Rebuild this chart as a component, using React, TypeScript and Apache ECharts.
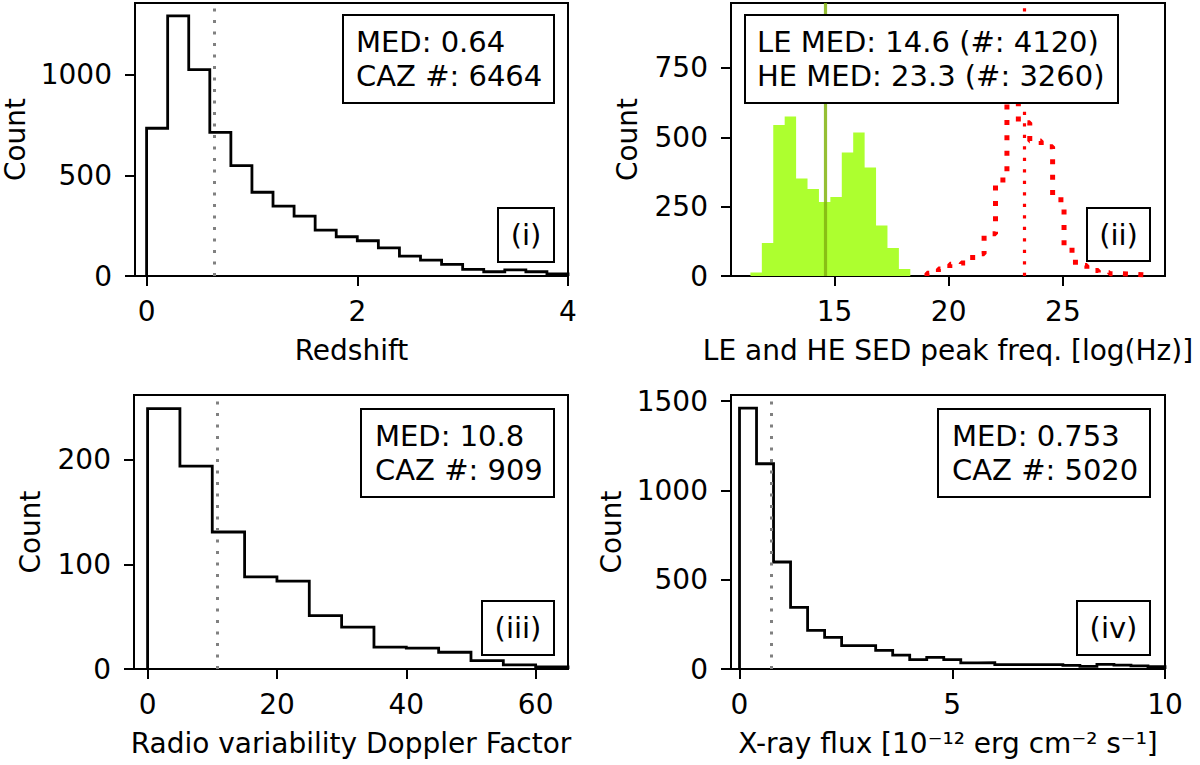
import React, { useEffect, useRef } from "react";
import * as echarts from "echarts";

const FONT = "DejaVu Sans";

// (i) redshift histogram
const zEdges = [0, 0.2, 0.4, 0.6, 0.8, 1.0, 1.2, 1.4, 1.6, 1.8, 2.0, 2.2, 2.4, 2.6, 2.8, 3.0, 3.2, 3.4, 3.6, 3.8, 4.0];
const zCounts = [734, 1292, 1025, 713, 548, 416, 347, 297, 228, 195, 175, 140, 99, 79, 58, 33, 21, 30, 21, 10];
const zMedian = 0.64;
const zTotal = 6464;
const zTicksX = [0, 2, 4];
const zTicksY = [0, 500, 1000];

// (ii) LE and HE SED peak frequency histograms
const leEdges = [11.32, 11.82, 12.32, 12.82, 13.32, 13.82, 14.32, 14.82, 15.32, 15.82, 16.32, 16.82, 17.32, 17.82, 18.32];
const leCounts = [13, 119, 544, 575, 351, 314, 267, 285, 445, 517, 391, 182, 101, 25];
const heEdges = [19.05, 19.55, 20.05, 20.55, 21.05, 21.55, 22.05, 22.55, 23.05, 23.55, 24.05, 24.55, 25.05, 25.55, 26.05, 26.55, 27.05, 27.55, 28.05, 28.55];
const heCounts = [10, 25, 42, 47, 80, 152, 346, 650, 552, 487, 466, 275, 93, 38, 20, 12, 8, 6, 4];
const leMedian = 14.6;
const heMedian = 23.3;
const leTotal = 4120;
const heTotal = 3260;
const sedTicksX = [15, 20, 25];
const sedTicksY = [0, 250, 500, 750];

// (iii) radio variability Doppler factor histogram
const dEdges = [0, 5, 10, 15, 20, 25, 30, 35, 40, 45, 50, 55, 60, 65];
const dCounts = [249, 194, 131, 88, 84, 51, 40, 21, 20, 16, 8, 4, 2];
const dMedian = 10.8;
const dTotal = 909;
const dTicksX = [0, 20, 40, 60];
const dTicksY = [0, 100, 200];

// (iv) X-ray flux histogram
const xEdges = [0, 0.4, 0.8, 1.2, 1.6, 2.0, 2.4, 2.8, 3.2, 3.6, 4.0, 4.4, 4.8, 5.2, 5.6, 6.0, 6.4, 6.8, 7.2, 7.6, 8.0, 8.4, 8.8, 9.2, 9.6, 10.0];
const xCounts = [1461, 1149, 599, 345, 216, 177, 131, 131, 104, 78, 52, 65, 52, 34, 35, 24, 24, 24, 24, 20, 15, 26, 22, 17, 13];
const xMedian = 0.753;
const xTotal = 5020;
const xTicksX = [0, 5, 10];
const xTicksY = [0, 500, 1000, 1500];

// outline of a histogram (as matplotlib's histtype="step")
function stepOutline(edges: number[], counts: number[]): number[][] {
  const pts: number[][] = [[edges[0], 0]];
  counts.forEach((c, i) => {
    pts.push([edges[i], c]);
    pts.push([edges[i + 1], c]);
  });
  pts.push([edges[edges.length - 1], 0]);
  return pts;
}

function axis(
  gridIndex: number,
  min: number,
  max: number,
  ticks: number[],
  name: string,
  nameGap: number,
  labelMargin: number
) {
  return {
    type: "value",
    gridIndex,
    min,
    max,
    name,
    nameLocation: "middle",
    nameGap,
    nameTextStyle: { fontSize: 28, color: "#000", fontFamily: FONT },
    axisLine: { show: true, onZero: false, lineStyle: { color: "#000", width: 2 } },
    axisTick: { show: true, inside: false, length: 10, customValues: ticks, lineStyle: { color: "#000", width: 2 } },
    axisLabel: {
      show: true,
      customValues: ticks,
      margin: labelMargin,
      fontSize: 28,
      color: "#000",
      fontFamily: FONT,
      formatter: (v: number) => String(v),
    },
    splitLine: { show: false },
  };
}

function medianMark(value: number, color: string, width: number, type: any) {
  return {
    xAxis: value,
    lineStyle: { color, width, type, cap: "butt" },
  };
}

function box(x: number, y: number, w: number, h: number, text: string, textX: number | null) {
  return [
    {
      type: "rect",
      z: 100,
      shape: { x, y, width: w, height: h },
      style: { fill: "#fff", stroke: "#000", lineWidth: 2 },
    },
    {
      type: "text",
      z: 101,
      x: textX === null ? x + w / 2 : textX,
      y: y + h / 2,
      style: {
        text,
        fontSize: 29,
        fontFamily: FONT,
        fill: "#000",
        align: textX === null ? "center" : "left",
        verticalAlign: "middle",
        lineHeight: 34.5,
      },
    },
  ];
}

const greyDots = [3, 8.5];

export default function App() {
  const ref = useRef<HTMLDivElement>(null);

  useEffect(() => {
    if (!ref.current) return;
    const chart = echarts.init(ref.current, null, { renderer: "svg" });

    const gridStyle = { show: true, borderColor: "#000", borderWidth: 2, backgroundColor: "transparent" };

    const option: any = {
      animation: false,
      backgroundColor: "#fff",
      textStyle: { fontFamily: FONT },
      grid: [
        { left: 133, top: 3, width: 435, height: 273, ...gridStyle },
        { left: 731, top: 3, width: 434, height: 273, ...gridStyle },
        { left: 134, top: 395, width: 434, height: 274, ...gridStyle },
        { left: 731, top: 395, width: 434, height: 274, ...gridStyle },
      ],
      xAxis: [
        axis(0, -0.11, 4, zTicksX, "Redshift", 60, 21),
        axis(1, 10.47, 29.47, sedTicksX, "LE and HE SED peak freq. [log(Hz)]", 60, 21),
        axis(2, -2.1, 65, dTicksX, "Radio variability Doppler Factor", 60, 21),
        axis(3, -0.2, 10, xTicksX, "X-ray flux [10⁻¹² erg cm⁻² s⁻¹]", 60, 21),
      ],
      yAxis: [
        axis(0, 0, 1356, zTicksY, "Count", 106, 23),
        axis(1, 0, 984, sedTicksY, "Count", 90, 23),
        axis(2, 0, 262, dTicksY, "Count", 90, 23),
        axis(3, 0, 1534, xTicksY, "Count", 106, 23),
      ],
      series: [
        {
          type: "line",
          xAxisIndex: 0,
          yAxisIndex: 0,
          data: stepOutline(zEdges, zCounts),
          symbol: "none",
          silent: true,
          z: 3,
          lineStyle: { color: "#000", width: 2.8, join: "miter" },
          markLine: {
            silent: true,
            symbol: ["none", "none"],
            label: { show: false },
            data: [medianMark(zMedian, "#808080", 3, greyDots)],
          },
        },
        {
          type: "line",
          xAxisIndex: 1,
          yAxisIndex: 1,
          data: stepOutline(leEdges, leCounts),
          symbol: "none",
          silent: true,
          z: 2,
          lineStyle: { opacity: 0, width: 0 },
          areaStyle: { color: "#adff2f", opacity: 1 },
        },
        {
          type: "line",
          xAxisIndex: 1,
          yAxisIndex: 1,
          data: stepOutline(heEdges, heCounts),
          symbol: "none",
          silent: true,
          z: 4,
          lineStyle: { color: "#ff0000", width: 5, type: [5, 10.4], cap: "butt" },
          markLine: {
            silent: true,
            symbol: ["none", "none"],
            label: { show: false },
            data: [
              medianMark(leMedian, "rgba(130,180,16,0.85)", 3.2, "solid"),
              medianMark(heMedian, "#ff0000", 3.2, [3.2, 8.3]),
            ],
          },
        },
        {
          type: "line",
          xAxisIndex: 2,
          yAxisIndex: 2,
          data: stepOutline(dEdges, dCounts),
          symbol: "none",
          silent: true,
          z: 3,
          lineStyle: { color: "#000", width: 2.8, join: "miter" },
          markLine: {
            silent: true,
            symbol: ["none", "none"],
            label: { show: false },
            data: [medianMark(dMedian, "#808080", 3, greyDots)],
          },
        },
        {
          type: "line",
          xAxisIndex: 3,
          yAxisIndex: 3,
          data: stepOutline(xEdges, xCounts),
          symbol: "none",
          silent: true,
          z: 3,
          lineStyle: { color: "#000", width: 2.8, join: "miter" },
          markLine: {
            silent: true,
            symbol: ["none", "none"],
            label: { show: false },
            data: [medianMark(xMedian, "#808080", 3, greyDots)],
          },
        },
      ],
      graphic: [
        ...box(343, 15, 211, 88, `MED: ${zMedian}\nCAZ #: ${zTotal}`, 356),
        ...box(498, 208, 56, 54, "(i)", null),
        ...box(745, 15, 373, 88, `LE MED: ${leMedian} (#: ${leTotal})\nHE MED: ${heMedian} (#: ${heTotal})`, 757),
        ...box(1087, 208, 63, 53, "(ii)", null),
        ...box(361, 409, 193, 88, `MED: ${dMedian}\nCAZ #: ${dTotal}`, 375),
        ...box(482, 601, 72, 54, "(iii)", null),
        ...box(938, 409, 212, 88, `MED: ${xMedian}\nCAZ #: ${xTotal}`, 952),
        ...box(1077, 601, 73, 54, "(iv)", null),
      ],
    };

    chart.setOption(option);
    return () => chart.dispose();
  }, []);

  return (
    <div
      ref={ref}
      style={{ position: "absolute", left: 0, top: 0, width: 1200, height: 765, background: "#fff" }}
    />
  );
}
